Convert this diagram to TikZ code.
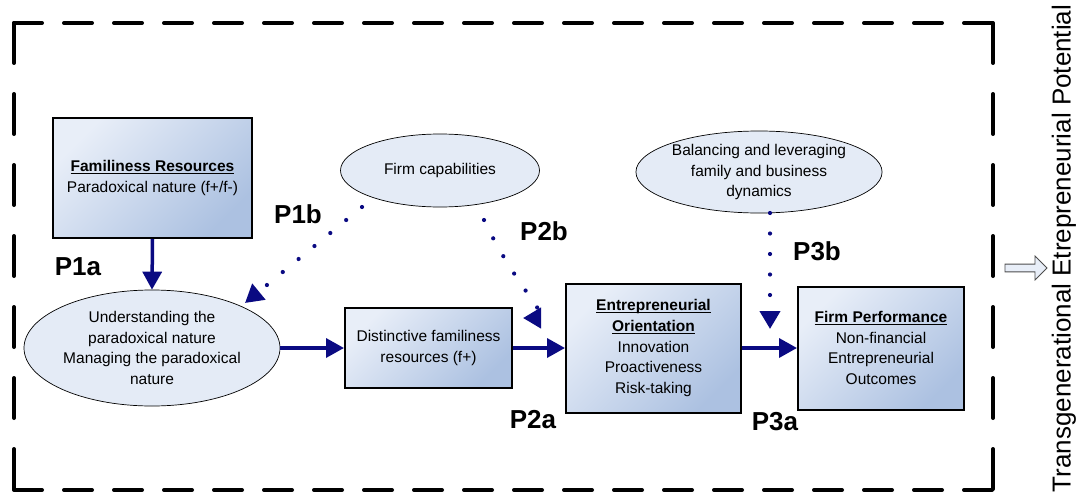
\documentclass[tikz,border=0pt]{standalone}
\usepackage{fontspec}
\setmainfont{Liberation Sans}
\usetikzlibrary{arrows.meta,shapes.geometric,shapes.arrows}
\definecolor{navy}{RGB}{10,10,130}
\definecolor{boxlight}{RGB}{232,238,248}
\definecolor{boxdark}{RGB}{172,193,225}
\definecolor{ellfill}{RGB}{228,235,246}
\newcommand\myul[1]{\underline{\raisebox{0pt}[\height][0pt]{#1}}}
\begin{document}
\begin{tikzpicture}[x=1pt,y=-1pt,
  box/.style={draw=black, line width=2pt, shading=axis, top color=boxlight, bottom color=boxdark, shading angle=45, align=center, font=\fontsize{15.5}{20.7}\selectfont, inner sep=0pt},
  ell/.style={ellipse, draw=black, line width=0.7pt, fill=ellfill, align=center, font=\fontsize{15.5}{20.7}\selectfont, inner sep=0pt},
  flow/.style={draw=navy, line width=3.5pt, -{Triangle[length=18pt,width=19pt]}},
  dotarrow/.style={draw=navy, line width=4.2pt, line cap=round, dash pattern=on 0pt off 20.5pt, -{Triangle[length=18pt,width=20pt]}},
  plabel/.style={font=\fontsize{26}{26}\selectfont\bfseries, inner sep=0pt},
  hborder/.style={line width=4pt, line cap=round, dash pattern=on 28pt off 22pt},
  vborder/.style={line width=4pt, line cap=round, dash pattern=on 40pt off 31pt}
]
\useasboundingbox (0,0) rectangle (1081,495);
% dashed frame
\draw[hborder] (14,23) -- (993,23);
\draw[hborder] (14,490) -- (993,490);
\draw[vborder] (14,23) -- (14,490);
\draw[vborder] (993,23) -- (993,490);

% nodes
\node[box, minimum width=199pt, minimum height=120pt] (fam) at (152.5,178)
  {\myul{\textbf{Familiness Resources}}\\Paradoxical nature (f+/f-)};
\node[ell, minimum width=256pt, minimum height=116pt] (und) at (152,348)
  {Understanding the\\paradoxical nature\\Managing the paradoxical\\nature};
\node[box, minimum width=167pt, minimum height=80pt] (dist) at (428.5,348)
  {Distinctive familiness\\resources (f+)};
\node[box, minimum width=175pt, minimum height=129pt] (eo) at (653.5,348)
  {\myul{\textbf{Entrepreneurial}}\\\myul{\textbf{Orientation}}\\Innovation\\Proactiveness\\Risk-taking};
\node[box, minimum width=166pt, minimum height=123pt] (fp) at (881,348)
  {\myul{\textbf{Firm Performance}}\\Non-financial\\Entrepreneurial\\Outcomes};
\node[ell, minimum width=199pt, minimum height=73pt] (fc) at (440,170.5) {Firm capabilities};
\node[ell, minimum width=242pt, minimum height=82pt] (bal) at (759,172)
  {Balancing and leveraging\\family and business\\dynamics};

% solid connectors
\draw[flow] (fam.south) -- (und.north);
\draw[flow] (und.east) -- (dist.west);
\draw[flow] (dist.east) -- (eo.west);
\draw[flow] (eo.east) -- (fp.west);

% dotted connectors
\coordinate (p1bs) at (362,207);
\coordinate (p1be) at (245,303);
\coordinate (p2bs) at (484,220);
\coordinate (p2be) at (523,318);
\coordinate (p3bs) at (770,213);
\coordinate (p3be) at (770,329);
\draw[dotarrow] (p1bs) -- (p1be);
\draw[dotarrow] (p2bs) .. controls (512,280) and (550,318) .. (p2be);
\draw[dotarrow] (p3bs) -- (p3be);

% labels
\node[plabel] (l1a) at (78,267) {P1a};
\node[plabel] (l1b) at (298,214) {P1b};
\node[plabel] (l2b) at (544,231) {P2b};
\node[plabel] (l2a) at (533,420) {P2a};
\node[plabel] (l3b) at (817,251) {P3b};
\node[plabel] (l3a) at (775,422) {P3a};

% right side
\node[single arrow, draw=black!70, line width=0.8pt, fill=boxlight, minimum height=42pt, minimum width=24pt, single arrow head extend=5pt, inner sep=2pt] (ba) at (1024,268) {};
\node[rotate=90, font=\fontsize{26}{26}\selectfont, inner sep=0pt] (tep) at (1064,248.5) {Transgenerational Etrepreneurial Potential};
\end{tikzpicture}
\end{document}
